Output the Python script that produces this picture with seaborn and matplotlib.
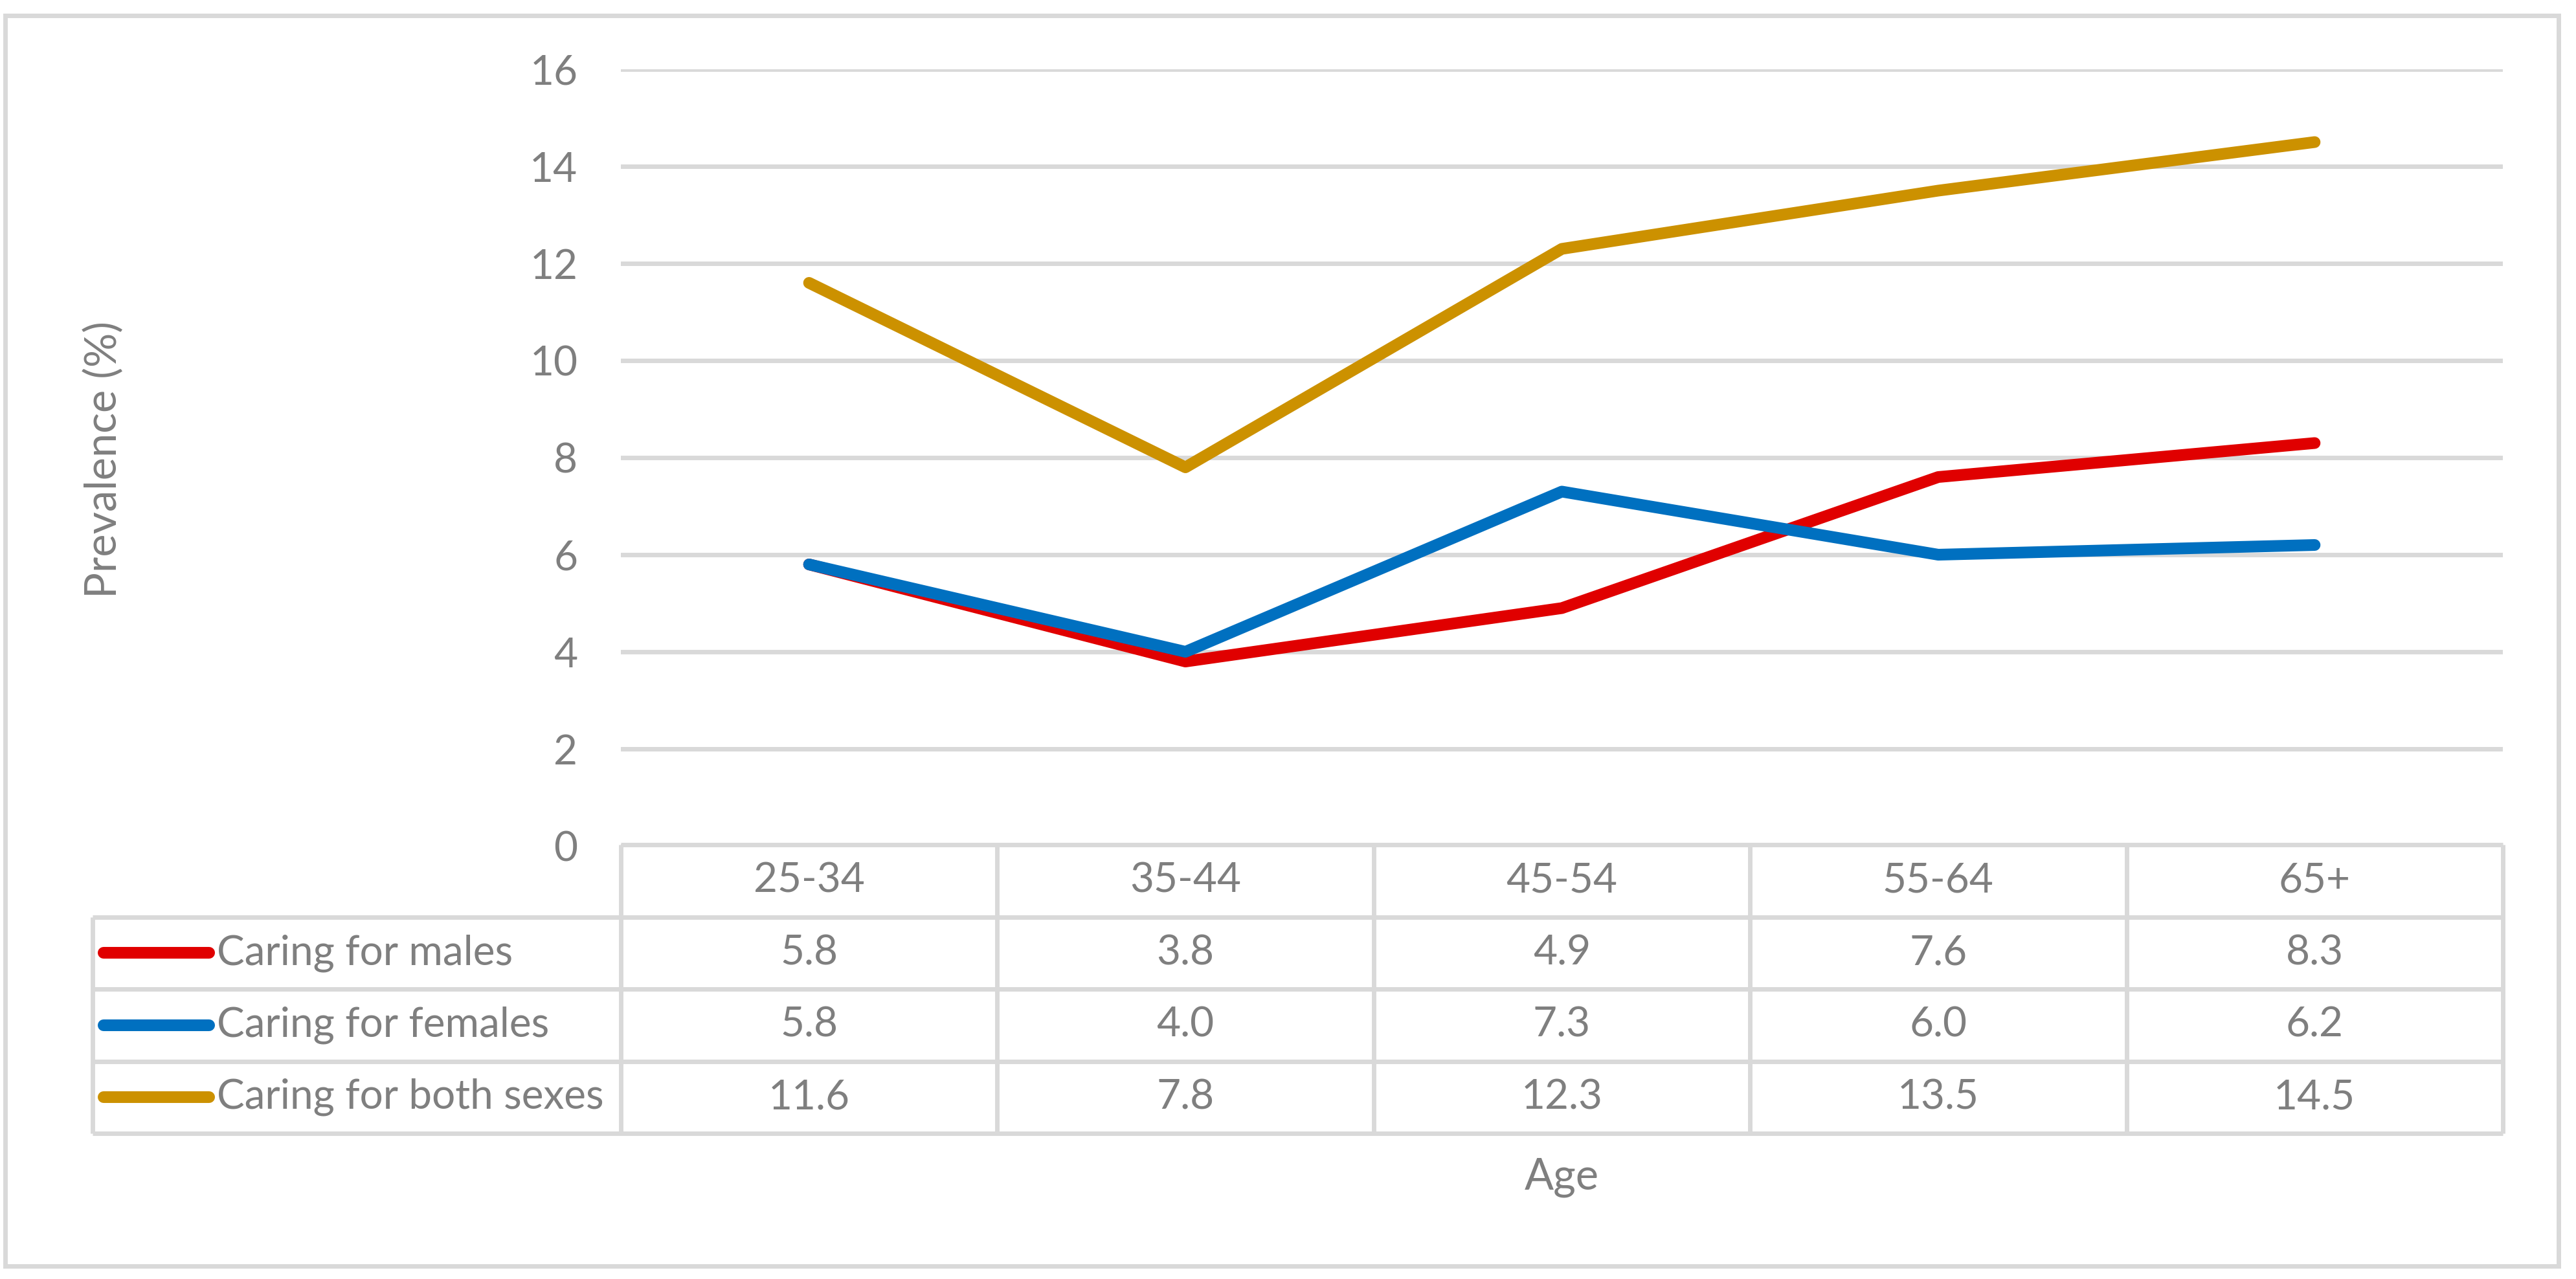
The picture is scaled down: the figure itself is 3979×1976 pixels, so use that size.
import matplotlib as mtl
mtl.use('Agg')
import matplotlib.pyplot as plt
import numpy as np
import pandas as pd
import seaborn as sns

# data
ages = ["25-34", "35-44", "45-54", "55-64", "65+"]
series_names = ["Caring for males", "Caring for females", "Caring for both sexes"]
males = [5.8, 3.8, 4.9, 7.6, 8.3]
females = [5.8, 4.0, 7.3, 6.0, 6.2]
both = [11.6, 7.8, 12.3, 13.5, 14.5]
colors = ["#E00000", "#0070C0", "#CC9100"]

grey = "#7f7f7f"
light = "#D9D9D9"
fs = 23

sns.set_style("white")
plt.rcParams['font.family'] = ['Lato', 'DejaVu Sans']

rows = [males, females, both]
df = pd.DataFrame({
    "pos": list(range(len(ages))) * 3,
    "value": males + females + both,
    "series": sum([[n] * len(ages) for n in series_names], []),
})

W, H = 3979, 1976
fig = plt.figure(figsize=(W / 200, H / 200), dpi=200)

# main plot area
ax = fig.add_axes([959 / W, 1 - 1307 / H, (3866 - 959) / W, 1200 / H])
sns.lineplot(data=df, x="pos", y="value", hue="series", palette=colors,
             hue_order=series_names, linewidth=6.5, legend=False, ax=ax,
             solid_capstyle='round', solid_joinstyle='round', zorder=3)
ax.set_xlim(-0.5, len(ages) - 0.5)
ax.set_ylim(0, 16)
ax.set_yticks(np.arange(0, 17, 2))
ax.set_xticks([])
ax.set_xlabel("")
ax.set_ylabel("")
ax.tick_params(axis='y', length=0, pad=24, labelsize=fs, labelcolor=grey)
ax.yaxis.grid(True, color=light, linewidth=2.5)
ax.set_axisbelow(True)
for s in ax.spines.values():
    s.set_visible(False)

# data table under the plot
left_col = (959 - 143) / 581.4
tx0 = -0.5 - left_col
tab = fig.add_axes([143 / W, 1 - 1751 / H, (3866 - 143) / W, (1751 - 1305) / H])
tab.set_xlim(tx0, len(ages) - 0.5)
tab.set_ylim(4, 0)
tab.axis('off')

lkw = dict(color=light, linewidth=2.5, clip_on=False, solid_capstyle='butt')
tab.plot([-0.5, len(ages) - 0.5], [0, 0], **lkw)
for r in range(1, 5):
    tab.plot([tx0, len(ages) - 0.5], [r, r], **lkw)
tab.plot([tx0, tx0], [1, 4], **lkw)
for c in range(len(ages) + 1):
    tab.plot([c - 0.5, c - 0.5], [0, 4], **lkw)

for i, a in enumerate(ages):
    tab.text(i, 0.5, a, ha='center', va='center', fontsize=fs, color=grey)

for r, (name, vals, col) in enumerate(zip(series_names, rows, colors)):
    y = r + 1.5
    tab.plot([tx0 + 0.03, tx0 + 0.31], [y, y], color=col, linewidth=6.5,
             solid_capstyle='round', clip_on=False)
    tab.text(tx0 + 0.33, y, name, ha='left', va='center', fontsize=fs, color=grey)
    for i, v in enumerate(vals):
        tab.text(i, y, f"{v:.1f}", ha='center', va='center', fontsize=fs, color=grey)

# axis titles
fig.text(161 / W, 1 - 710 / H, "Prevalence (%)", rotation=90, ha='center',
         va='center', fontsize=24, color=grey)
fig.text(2412 / W, 1 - 1837 / H, "Age", ha='center', va='baseline',
         fontsize=24, color=grey)

# outer chart border
frame = plt.Rectangle((8 / W, 1 - 1956 / H), (3952 - 8) / W, (1956 - 24) / H,
                      transform=fig.transFigure, fill=False, edgecolor=light,
                      linewidth=2.5)
fig.patches.append(frame)

plt.savefig("out.png", dpi=200, facecolor="white")
